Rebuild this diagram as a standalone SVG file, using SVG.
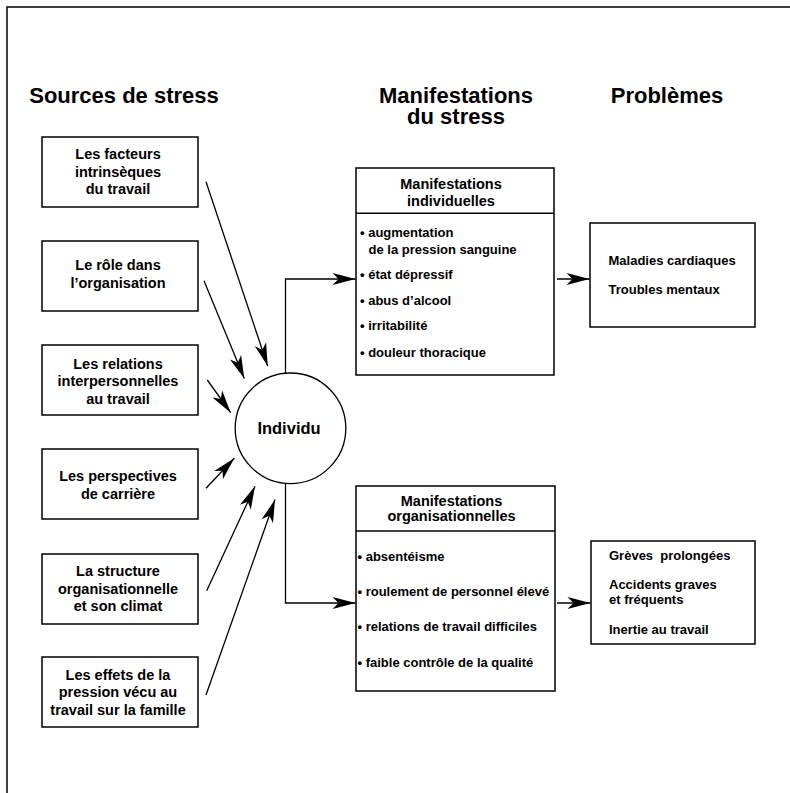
<svg xmlns="http://www.w3.org/2000/svg" width="790" height="793" viewBox="0 0 790 793">
<defs>
<style>
text{font-family:"Liberation Sans",Arial,Helvetica,sans-serif;font-weight:bold;fill:#000}
.h{font-size:22px;text-anchor:middle}
.s{font-size:14.5px;text-anchor:middle}
.mh{font-size:14.5px;text-anchor:middle}
.b{font-size:13px}
.box{fill:#fff;stroke:#000;stroke-width:1.5}
.ln{fill:none;stroke:#000;stroke-width:1.3}
</style>
<marker id="ah" markerUnits="userSpaceOnUse" markerWidth="30" markerHeight="16" viewBox="-26 -8 30 16" refX="0" refY="0" orient="auto">
<path d="M0,0 L-23,-6 L-17,0 L-23,6 Z" fill="#000"/>
</marker>
</defs>
<rect width="790" height="793" fill="#fff"/>
<path d="M7,793 V7 H790" fill="none" stroke="#000" stroke-width="1.5"/>

<g id="headers">
<text class="h" x="124" y="103">Sources de stress</text>
<text class="h" x="456" y="103">Manifestations<tspan x="456" dy="21">du stress</tspan></text>
<text class="h" x="667" y="103">Problèmes</text>
</g>

<g id="src1">
<rect class="box" x="42" y="137" width="156" height="70"/>
<text class="s" x="118" y="159">Les facteurs</text>
<text class="s" x="118" y="176.5">intrinsèques</text>
<text class="s" x="118" y="193.5">du travail</text>
</g>
<g id="src2">
<rect class="box" x="42" y="241" width="156" height="70"/>
<text class="s" x="118" y="270">Le rôle dans</text>
<text class="s" x="118" y="287.5">l’organisation</text>
</g>
<g id="src3">
<rect class="box" x="42" y="345" width="156" height="70"/>
<text class="s" x="118" y="368.5">Les relations</text>
<text class="s" x="118" y="386">interpersonnelles</text>
<text class="s" x="118" y="403.5">au travail</text>
</g>
<g id="src4">
<rect class="box" x="42" y="449" width="156" height="70"/>
<text class="s" x="118" y="481">Les perspectives</text>
<text class="s" x="118" y="498.5">de carrière</text>
</g>
<g id="src5">
<rect class="box" x="42" y="554" width="156" height="70"/>
<text class="s" x="118" y="576">La structure</text>
<text class="s" x="118" y="593.5">organisationnelle</text>
<text class="s" x="118" y="611">et son climat</text>
</g>
<g id="src6">
<rect class="box" x="42" y="657" width="156" height="70"/>
<text class="s" x="118" y="679.5">Les effets de la</text>
<text class="s" x="118" y="697">pression vécu au</text>
<text class="s" x="118" y="714.5">travail sur la famille</text>
</g>

<g id="individu">
<circle cx="290.5" cy="428.3" r="55.3" fill="#fff" stroke="#000" stroke-width="1.3"/>
<text x="289" y="434" style="font-size:16.5px;text-anchor:middle">Individu</text>
</g>

<g id="indiv">
<rect class="box" x="356" y="168" width="198" height="207"/>
<line x1="356" y1="213.3" x2="554" y2="213.3" stroke="#000" stroke-width="1.5"/>
<text class="mh" x="451" y="189">Manifestations</text>
<text class="mh" x="451" y="206">individuelles</text>
<text class="b" x="360" y="236.5">• augmentation</text>
<text class="b" x="368.5" y="253.5">de la pression sanguine</text>
<text class="b" x="360" y="278.5">• état dépressif</text>
<text class="b" x="360" y="304.5">• abus d’alcool</text>
<text class="b" x="360" y="330">• irritabilité</text>
<text class="b" x="360" y="357">• douleur thoracique</text>
</g>

<g id="org">
<rect class="box" x="356" y="486" width="199" height="205"/>
<line x1="356" y1="531" x2="555" y2="531" stroke="#000" stroke-width="1.5"/>
<text class="mh" x="451.5" y="505.5">Manifestations</text>
<text class="mh" x="451.5" y="521">organisationnelles</text>
<text class="b" x="357.5" y="561">• absentéisme</text>
<text class="b" x="357.5" y="596">• roulement de personnel élevé</text>
<text class="b" x="357.5" y="631">• relations de travail difficiles</text>
<text class="b" x="357.5" y="667">• faible contrôle de la qualité</text>
</g>

<g id="prob1">
<rect class="box" x="590" y="223" width="165" height="104"/>
<text class="b" x="608.5" y="265">Maladies cardiaques</text>
<text class="b" x="608.5" y="294">Troubles mentaux</text>
</g>

<g id="prob2">
<rect class="box" x="591" y="541" width="164" height="103"/>
<text class="b" x="609" y="559.5" xml:space="preserve">Grèves  prolongées</text>
<text class="b" x="609" y="588.5">Accidents graves</text>
<text class="b" x="609" y="604">et fréquents</text>
<text class="b" x="609" y="633.5">Inertie au travail</text>
</g>

<g id="connectors">
<line class="ln" x1="206" y1="181.7" x2="267.7" y2="366" marker-end="url(#ah)"/>
<line class="ln" x1="204" y1="280.7" x2="244.3" y2="378.5" marker-end="url(#ah)"/>
<line class="ln" x1="207.3" y1="380" x2="230.7" y2="412.7" marker-end="url(#ah)"/>
<line class="ln" x1="206" y1="488.3" x2="234.3" y2="458.3" marker-end="url(#ah)"/>
<line class="ln" x1="206.7" y1="590.7" x2="255" y2="486.3" marker-end="url(#ah)"/>
<line class="ln" x1="206" y1="695" x2="275" y2="499.5" marker-end="url(#ah)"/>
<path class="ln" d="M285.5,373.2 V279 H355.5" marker-end="url(#ah)"/>
<path class="ln" d="M285.5,483.4 V603 H355.5" marker-end="url(#ah)"/>
<line class="ln" x1="557" y1="279" x2="589.5" y2="279" marker-end="url(#ah)"/>
<line class="ln" x1="557" y1="603" x2="590.5" y2="603" marker-end="url(#ah)"/>
</g>
</svg>
